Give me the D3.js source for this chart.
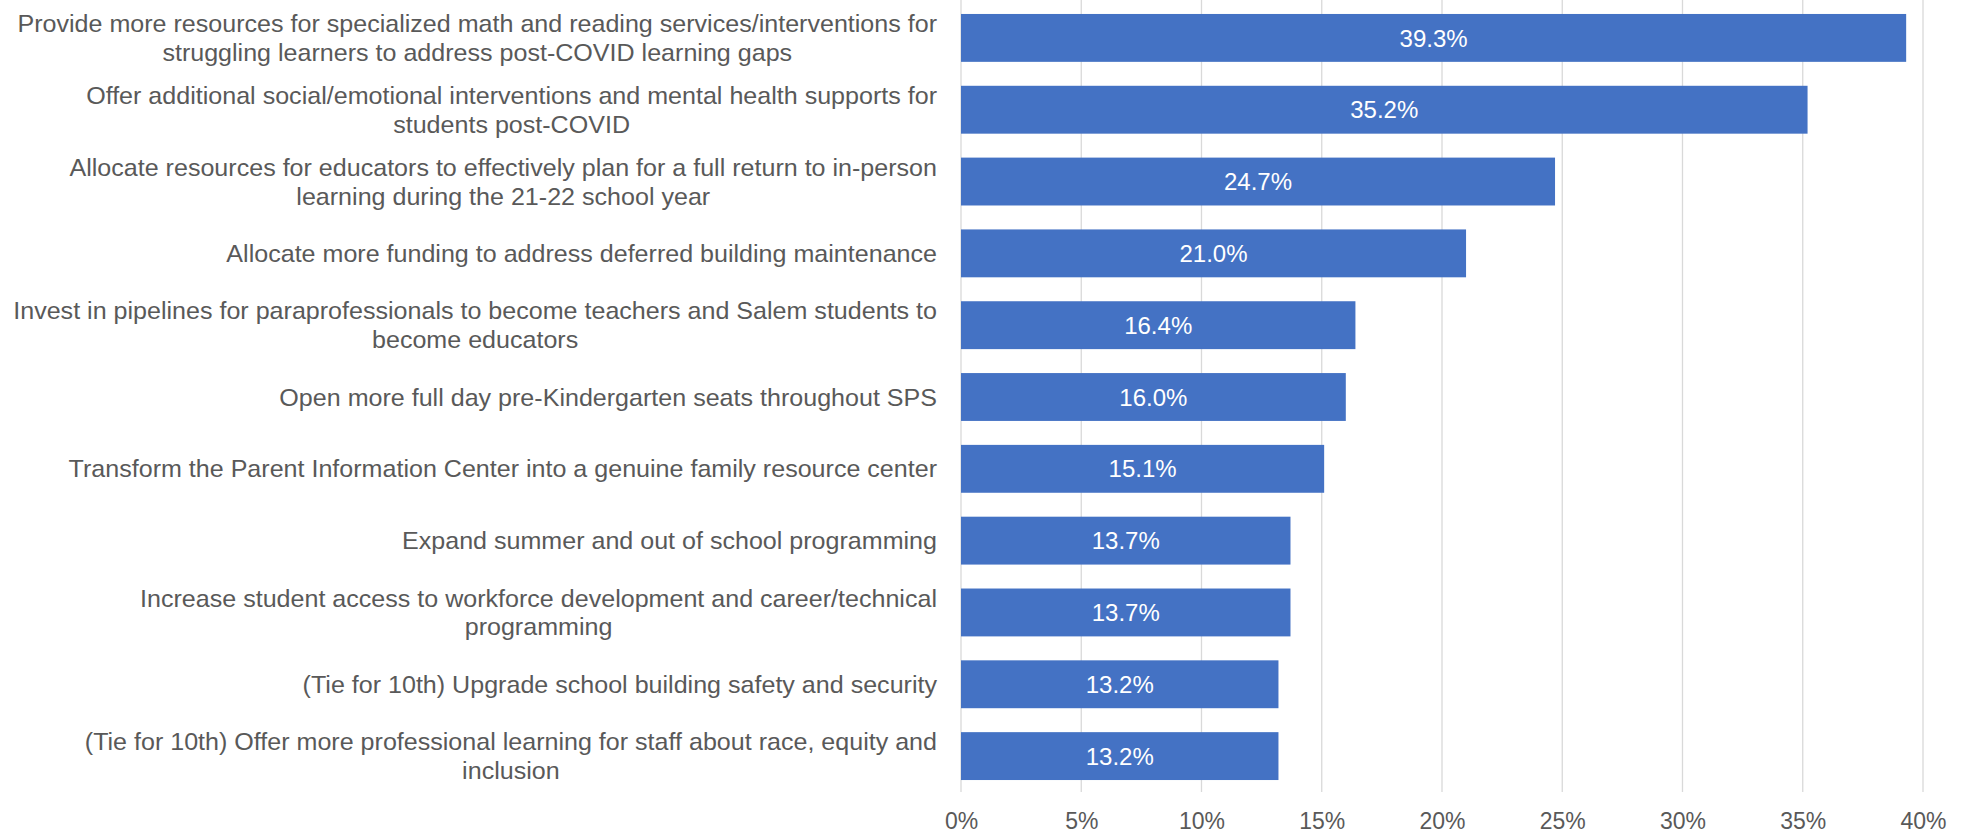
<!DOCTYPE html>
<html>
<head>
<meta charset="utf-8">
<script src="https://cdn.jsdelivr.net/npm/d3@7"></script>
<style>
  html, body { margin: 0; padding: 0; background: #ffffff; }
  svg { display: block; font-family: "Liberation Sans", Arial, sans-serif; }
</style>
</head>
<body>
<svg id="chart" width="1970" height="833"></svg>
<script>
// Survey priorities, top to bottom; "\n" marks where a label wraps
const categories = [
  "Provide more resources for specialized math and reading services/interventions for\nstruggling learners to address post-COVID learning gaps",
  "Offer additional social/emotional interventions and mental health supports for\nstudents post-COVID",
  "Allocate resources for educators to effectively plan for a full return to in-person\nlearning during the 21-22 school year",
  "Allocate more funding to address deferred building maintenance",
  "Invest in pipelines for paraprofessionals to become teachers and Salem students to\nbecome educators",
  "Open more full day pre-Kindergarten seats throughout SPS",
  "Transform the Parent Information Center into a genuine family resource center",
  "Expand summer and out of school programming",
  "Increase student access to workforce development and career/technical\nprogramming",
  "(Tie for 10th) Upgrade school building safety and security",
  "(Tie for 10th) Offer more professional learning for staff about race, equity and\ninclusion"
];
const values = [39.3, 35.2, 24.7, 21.0, 16.4, 16.0, 15.1, 13.7, 13.7, 13.2, 13.2];
const tickValues = [0, 5, 10, 15, 20, 25, 30, 35, 40];

const svg = d3.select("#chart");
const margin = { left: 961, right: 47, top: 2, bottom: 41 };
const W = 1970, H = 833;
const plotBottom = H - margin.bottom;

const x = d3.scaleLinear().domain([0, 40]).range([margin.left, W - margin.right]);
const y = d3.scaleBand()
  .domain(d3.range(categories.length))
  .range([margin.top, plotBottom])
  .paddingInner(1 / 3)
  .paddingOuter(1 / 6);

const textColor = "#595959";

// vertical gridlines
svg.append("g")
  .selectAll("line")
  .data(tickValues)
  .join("line")
  .attr("x1", d => x(d)).attr("x2", d => x(d))
  .attr("y1", 0).attr("y2", plotBottom)
  .attr("stroke", "#d9d9d9")
  .attr("stroke-width", 1.3);

// x axis tick labels
const xAxis = d3.axisBottom(x)
  .tickValues(tickValues)
  .tickFormat(d => d + "%")
  .tickSize(0)
  .tickPadding(0);
const gx = svg.append("g")
  .attr("transform", `translate(0,${plotBottom})`)
  .call(xAxis);
gx.select(".domain").remove();
gx.selectAll("text")
  .attr("y", 37)
  .attr("dy", null)
  .attr("fill", textColor)
  .style("font-size", "23px")
  .style("font-family", "'Liberation Sans', Arial, sans-serif");

// bars
svg.append("g")
  .selectAll("rect")
  .data(values)
  .join("rect")
  .attr("x", x(0))
  .attr("y", (d, i) => y(i))
  .attr("width", d => x(d) - x(0))
  .attr("height", y.bandwidth())
  .attr("fill", "#4472C4");

// value labels inside bars
svg.append("g")
  .selectAll("text")
  .data(values)
  .join("text")
  .attr("x", d => (x(0) + x(d)) / 2)
  .attr("y", (d, i) => y(i) + y.bandwidth() / 2)
  .attr("dy", "0.36em")
  .attr("text-anchor", "middle")
  .attr("fill", "#ffffff")
  .style("font-size", "24px")
  .text(d => d.toFixed(1) + "%");

// category labels: block right-aligned to the axis, lines centred within the block
const labelRight = margin.left - 24;
const lineH = 28.8;
const stretch = 1.045; // slightly wide lettering for the category text
const labelG = svg.append("g")
  .attr("transform", `translate(${labelRight},0) scale(${stretch},1)`);
categories.forEach((c, i) => {
  const lines = c.split("\n");
  const cy = y(i) + y.bandwidth() / 2;
  const t = labelG.append("text")
    .attr("fill", textColor)
    .style("font-size", "24px")
    .attr("text-anchor", "middle");
  const spans = lines.map((ln, k) => t.append("tspan")
    .attr("y", cy + (k - (lines.length - 1) / 2) * lineH)
    .attr("dy", "0.36em")
    .text(ln));
  const widths = spans.map(s => s.node().getComputedTextLength());
  const maxW = d3.max(widths);
  spans.forEach(s => s.attr("x", -maxW / 2));
});
</script>
</body>
</html>
